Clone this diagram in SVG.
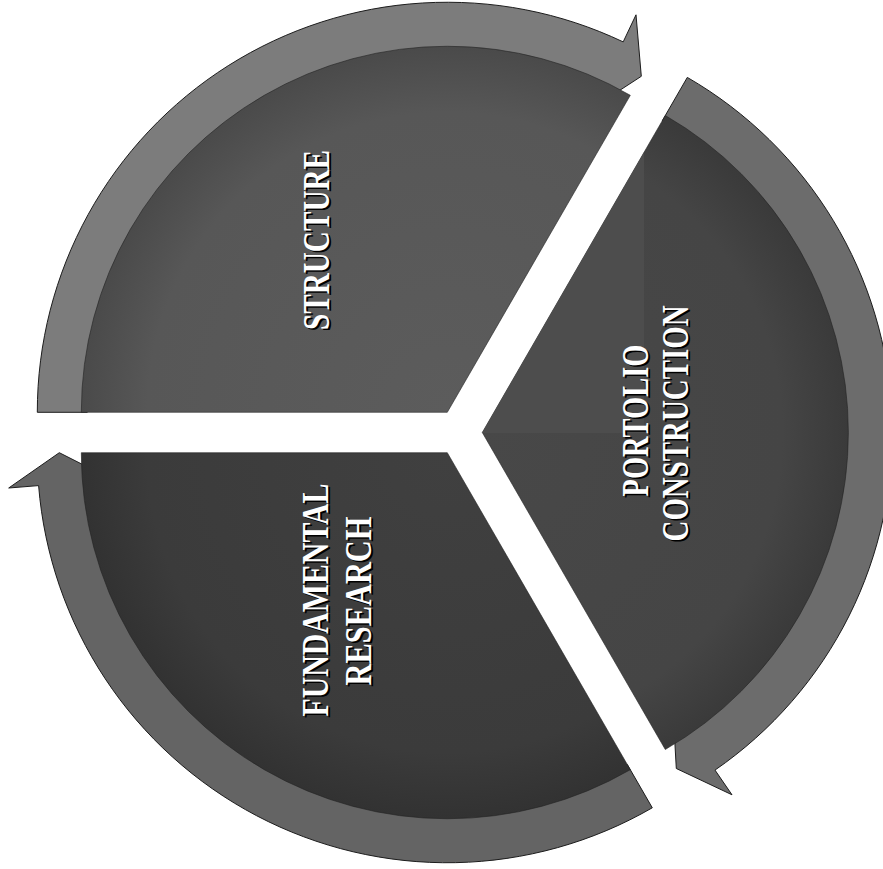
<svg xmlns="http://www.w3.org/2000/svg" width="883" height="869" viewBox="0 0 883 869">
  <defs>
    <style>
      .band { stroke: #1c1c1c; stroke-width: 1; stroke-linejoin: miter; }
      .wedge { stroke: #222222; stroke-width: 0.6; }
      .lbl { font-family: "Liberation Serif", "Times New Roman", serif; font-size: 37px; font-weight: bold; text-anchor: middle; }
      .txt { fill: #ffffff; }
      .sh { fill: #000000; }
    </style>
    <radialGradient id="gS" gradientUnits="userSpaceOnUse" cx="447.3" cy="412.3" r="366">
      <stop offset="0" stop-color="#5c5c5c"/>
      <stop offset="0.82" stop-color="#575757"/>
      <stop offset="1" stop-color="#4a4a4a"/>
    </radialGradient>
    <radialGradient id="gP" gradientUnits="userSpaceOnUse" cx="482.3" cy="432.5" r="366">
      <stop offset="0" stop-color="#484848"/>
      <stop offset="0.82" stop-color="#454545"/>
      <stop offset="1" stop-color="#3a3a3a"/>
    </radialGradient>
    <radialGradient id="gF" gradientUnits="userSpaceOnUse" cx="447.3" cy="452.7" r="366">
      <stop offset="0" stop-color="#404040"/>
      <stop offset="0.82" stop-color="#3b3b3b"/>
      <stop offset="1" stop-color="#323232"/>
    </radialGradient>
    <clipPath id="cpP">
      <path d="M482.3,432.5 L665.3,115.5 A366,366 0 0 1 665.3,749.5 Z"/>
    </clipPath>
  </defs>
  <rect x="0" y="0" width="883" height="869" fill="#ffffff"/>

  <g id="connectors">
    <path id="arrow-structure" class="band" fill="#7c7c7c" d="M37.3,412.3 A410,410 0 0 1 623.2,41.9 L636.0,14.8 L641.3,76.3 L591.4,108.8 L601.7,87.1 A360,360 0 0 0 87.3,412.3 Z"/>
    <path id="arrow-portfolio" class="band" fill="#6c6c6c" d="M687.3,77.4 A410,410 0 0 1 715.0,770.1 L732.0,794.8 L676.3,768.5 L673.0,709.1 L686.6,728.9 A360,360 0 0 0 662.3,120.7 Z"/>
    <path id="arrow-fundamental" class="band" fill="#646464" d="M652.3,807.8 A410,410 0 0 1 38.6,485.6 L8.7,488.0 L59.3,452.7 L112.4,479.6 L88.5,481.6 A360,360 0 0 0 627.3,764.5 Z"/>
  </g>

  <g id="structure">
    <path class="wedge" fill="url(#gS)" d="M447.3,412.3 L81.3,412.3 A366,366 0 0 1 630.3,95.3 Z"/>
    <text class="lbl sh" transform="translate(331,241.5) rotate(-90)" textLength="180" lengthAdjust="spacingAndGlyphs">STRUCTURE</text>
    <text class="lbl txt" transform="translate(329,240) rotate(-90)" textLength="180" lengthAdjust="spacingAndGlyphs">STRUCTURE</text>
  </g>

  <g id="portfolio-construction">
    <path class="wedge" fill="url(#gP)" d="M482.3,432.5 L665.3,115.5 A366,366 0 0 1 665.3,749.5 Z"/>
    <rect x="482" y="152" width="162" height="281" fill="#4d4d4d" clip-path="url(#cpP)"/>
    <text class="lbl sh" transform="translate(650,422) rotate(-90)" textLength="152" lengthAdjust="spacingAndGlyphs">PORTOLIO</text>
    <text class="lbl txt" transform="translate(648,420.5) rotate(-90)" textLength="152" lengthAdjust="spacingAndGlyphs">PORTOLIO</text>
    <text class="lbl sh" transform="translate(690,425) rotate(-90)" textLength="236" lengthAdjust="spacingAndGlyphs">CONSTRUCTION</text>
    <text class="lbl txt" transform="translate(688,423.5) rotate(-90)" textLength="236" lengthAdjust="spacingAndGlyphs">CONSTRUCTION</text>
  </g>

  <g id="fundamental-research">
    <path class="wedge" fill="url(#gF)" d="M447.3,452.7 L630.3,769.7 A366,366 0 0 1 81.3,452.7 Z"/>
    <text class="lbl sh" transform="translate(330,601.5) rotate(-90)" textLength="233" lengthAdjust="spacingAndGlyphs">FUNDAMENTAL</text>
    <text class="lbl txt" transform="translate(328,600) rotate(-90)" textLength="233" lengthAdjust="spacingAndGlyphs">FUNDAMENTAL</text>
    <text class="lbl sh" transform="translate(373,602.5) rotate(-90)" textLength="169" lengthAdjust="spacingAndGlyphs">RESEARCH</text>
    <text class="lbl txt" transform="translate(371,601) rotate(-90)" textLength="169" lengthAdjust="spacingAndGlyphs">RESEARCH</text>
  </g>
</svg>
